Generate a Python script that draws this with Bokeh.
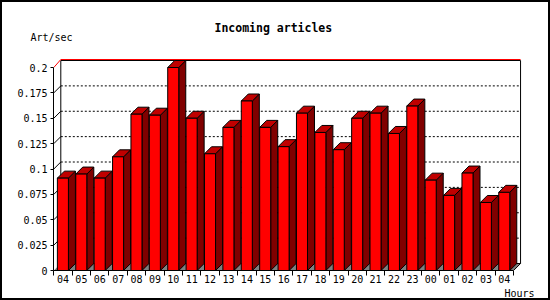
from bokeh.plotting import figure
from bokeh.models import Range1d, FixedTicker, Title
from bokeh.embed import file_html
from bokeh.resources import INLINE

# ---- data ----
hours = ["04", "05", "06", "07", "08", "09", "10", "11", "12", "13", "14", "15",
         "16", "17", "18", "19", "20", "21", "22", "23", "00", "01", "02", "03", "04"]
rates = [0.091, 0.095, 0.091, 0.112, 0.154, 0.153, 0.200, 0.150, 0.115, 0.141,
         0.167, 0.141, 0.122, 0.155, 0.136, 0.119, 0.150, 0.155, 0.135, 0.162,
         0.089, 0.074, 0.096, 0.067, 0.077]
y_ticks = [0, 0.025, 0.05, 0.075, 0.1, 0.125, 0.15, 0.175, 0.2]
y_tick_labels = ["0", "0.025", "0.05", "0.075", "0.1", "0.125", "0.15", "0.175", "0.2"]
y_max = 0.2

# ---- geometry (pixels) ----
W, H = 550, 300
FL, FR, FT, FB = 53, 522, 58, 270          # frame edges in canvas px
PX = 18.39                                 # px per hour slot
PY = 1015.0                                # px per unit of rate
x_lo = -0.3 / PX
x_hi = x_lo + (FR - FL) / PX
y_hi = (FB - FT) / PY
DX = 7 / PX                                # 3D depth offset (x)
DY = 7 / PY                                # 3D depth offset (y)
OFF, BW = 0.195, 0.6                       # bar offset/width within slot
n = len(rates)

MONO = "DejaVu Sans Mono"

p = figure(width=W, height=H, output_backend="svg", toolbar_location=None,
           x_range=Range1d(x_lo, x_hi), y_range=Range1d(0, y_hi),
           min_border_left=FL, min_border_right=W - FR,
           min_border_top=FT, min_border_bottom=H - FB)
p.outline_line_color = None
p.background_fill_color = "white"
p.border_fill_color = None
p.xgrid.visible = False
p.ygrid.visible = False
p.stylesheets = [":host { background-color: white; box-shadow: inset 0 0 0 2px black; }"]

# floor
p.patch([0, n, n + DX, DX], [0, 0, DY, DY], fill_color="#808080", line_color=None)

# back grid lines
gl = y_ticks[1:-1]
p.segment(x0=[DX] * len(gl), y0=[v + DY for v in gl], x1=[n + DX] * len(gl),
          y1=[v + DY for v in gl], line_color="black", line_width=1, line_dash="2 2")
p.segment(x0=[0] * len(gl), y0=gl, x1=[DX] * len(gl), y1=[v + DY for v in gl],
          line_color="black", line_width=1)

# back frame edges
p.segment(x0=[DX, n + DX, DX, n], y0=[DY, DY, DY, 0],
          x1=[DX, n + DX, n + DX, n + DX], y1=[y_max + DY, y_max + DY, DY, DY],
          line_color="black", line_width=1)
p.line([DX, n + DX], [y_max + DY, y_max + DY], line_color="black", line_width=1)
p.line([0, DX, n + DX], [y_max, y_max + DY + 1 / PY, y_max + DY + 1 / PY],
       line_color="#ff0000", line_width=1)

# bars (3D)
x0s = [i + OFF for i in range(n)]
x1s = [i + OFF + BW for i in range(n)]
side_xs = [[a, a + DX, a + DX, a] for a in x1s]
side_ys = [[0, DY, v + DY, v] for v in rates]
top_xs = [[a, b, b + DX, a + DX] for a, b in zip(x0s, x1s)]
top_ys = [[v, v, v + DY, v + DY] for v in rates]

for i in range(n):
    p.patch(side_xs[i], side_ys[i], fill_color="#800000", line_color="black", line_width=1)
    p.patch(top_xs[i], top_ys[i], fill_color="#c00000", line_color="black", line_width=1)
    p.quad(left=[x0s[i]], right=[x1s[i]], bottom=[0], top=[rates[i]],
           fill_color="#ff0000", line_color="black", line_width=1)

# axes
ya = p.yaxis[0]
ya.bounds = (0, y_max)
ya.ticker = FixedTicker(ticks=y_ticks)
ya.major_label_overrides = {t: s for t, s in zip(y_ticks, y_tick_labels)}
ya.major_tick_out = 3
ya.major_tick_in = 0
ya.minor_tick_line_color = None
ya.major_label_standoff = 3
ya.major_label_text_font = MONO
ya.major_label_text_font_size = "10px"
ya.major_label_text_color = "black"
ya.axis_line_color = "black"
ya.major_tick_line_color = "black"

xa = p.xaxis[0]
xa.bounds = (0, n)
centers = [i + 0.5 for i in range(n)]
xa.ticker = FixedTicker(ticks=centers, minor_ticks=list(range(n + 1)))
xa.major_label_overrides = {c: h for c, h in zip(centers, hours)}
xa.major_tick_line_color = None
xa.major_tick_out = 0
xa.major_tick_in = 0
xa.minor_tick_out = 5
xa.minor_tick_in = 0
xa.minor_tick_line_color = "black"
xa.major_label_standoff = -1
xa.major_label_text_font = MONO
xa.major_label_text_font_size = "10px"
xa.major_label_text_color = "black"
xa.axis_line_color = "black"

# texts (titles live in the side panels, outside the frame)
p.title.text = "Incoming articles"
p.title.text_font = MONO
p.title.text_font_size = "11.5px"
p.title.text_font_style = "bold"
p.title.text_color = "black"
p.title.align = "left"
p.title.offset = 214 - FL
p.title.standoff = -42

unit_title = Title(text="Art/sec", text_font=MONO, text_font_size="10px",
                   text_font_style="normal", text_color="black",
                   align="left", offset=30 - FL, standoff=32)
p.add_layout(unit_title, "above")

hours_title = Title(text="Hours", text_font=MONO, text_font_size="10px",
                    text_font_style="normal", text_color="black",
                    align="left", offset=504 - FL, standoff=0)
p.add_layout(hours_title, "below")

open("out.html", "w").write(file_html(p, INLINE))
